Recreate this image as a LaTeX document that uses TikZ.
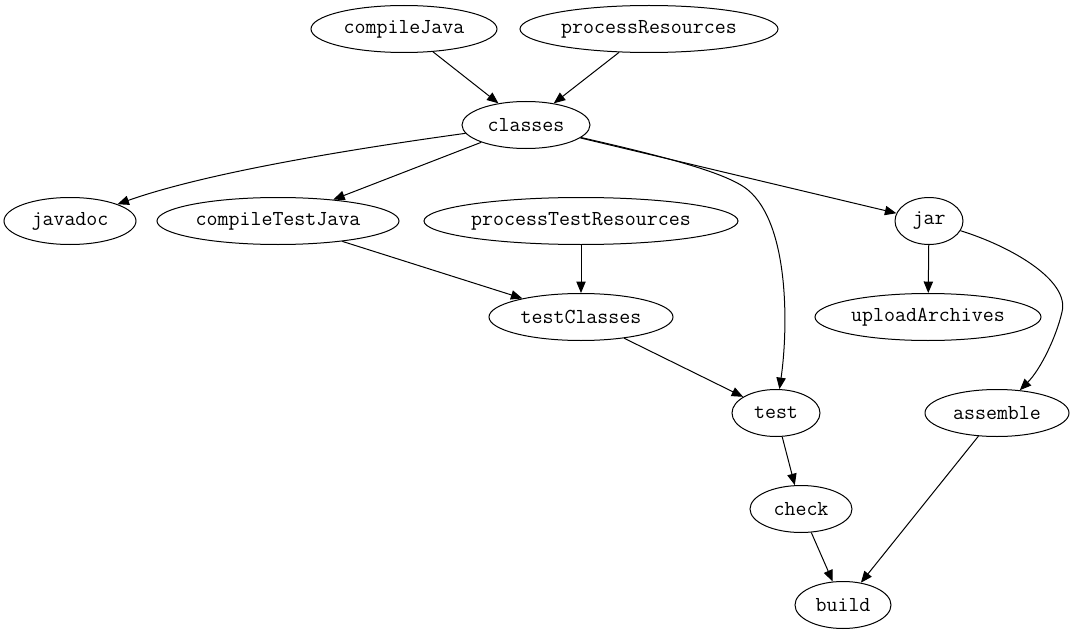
\documentclass[tikz,border=0pt]{standalone}
\usepackage{fontspec}
\usetikzlibrary{shapes.geometric,arrows.meta}
\def\px{0.75pt}
\tikzset{
  task/.style={ellipse, draw, line width=0.75pt, inner sep=0pt, minimum height=47*\px,
    font=\ttfamily\fontsize{16}{18}\selectfont},
  dep/.style={line width=0.75pt, -{Triangle[length=8.6pt,width=7pt]}}
}
\begin{document}
\begin{tikzpicture}[x=0.75pt,y=-0.75pt]
\useasboundingbox (0,0) rectangle (1075,635);
\node[task, minimum width=186*\px] (compileJava) at (404,29) {compileJava};
\node[task, minimum width=258*\px] (processResources) at (649,29) {processResources};
\node[task, minimum width=128*\px] (classes) at (526,125) {classes};
\node[task, minimum width=132*\px] (javadoc) at (70,221) {javadoc};
\node[task, minimum width=242*\px] (compileTestJava) at (278,221) {compileTestJava};
\node[task, minimum width=314*\px] (processTestResources) at (581,221) {processTestResources};
\node[task, minimum width=68*\px] (jar) at (929,221) {jar};
\node[task, minimum width=184*\px] (testClasses) at (581,317) {testClasses};
\node[task, minimum width=226*\px] (uploadArchives) at (928,317) {uploadArchives};
\node[task, minimum width=88*\px] (test) at (776,413) {test};
\node[task, minimum width=144*\px] (assemble) at (997,413) {assemble};
\node[task, minimum width=102*\px] (check) at (801,509) {check};
\node[task, minimum width=96*\px] (build) at (843,605) {build};

\draw[dep] (compileJava) -- (classes);
\draw[dep] (processResources) -- (classes);
\draw[dep] (classes) .. controls (330,152) and (200,175) .. (javadoc);
\draw[dep] (classes) -- (compileTestJava);
\draw[dep] (classes) -- (jar);
\draw[dep] (classes) .. controls (680,160) and (730,175) .. (748,190) .. controls (790,225) and (788,330) .. (test);
\draw[dep] (processTestResources) -- (testClasses);
\draw[dep] (compileTestJava) -- (testClasses);
\draw[dep] (testClasses) -- (test);
\draw[dep] (jar) -- (uploadArchives);
\draw[dep] (jar) .. controls (1010,246) and (1070,280) .. (1062,312) .. controls (1056,338) and (1040,370) .. (assemble);
\draw[dep] (test) -- (check);
\draw[dep] (check) -- (build);
\draw[dep] (assemble) -- (build);
\end{tikzpicture}
\end{document}
